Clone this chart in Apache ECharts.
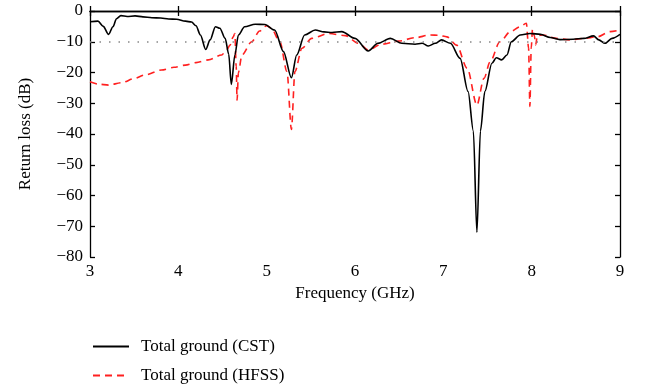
<!DOCTYPE html>
<html>
<head>
<meta charset="utf-8">
<script src="https://cdn.jsdelivr.net/npm/echarts@6/dist/echarts.min.js"></script>
<style>
  html, body { margin:0; padding:0; background:#fff; }
  #chart { width:648px; height:387px; }
</style>
</head>
<body>
<div id="chart"></div>
<script type="text/javascript">
// CST curve (frequency in GHz, return loss in dB)
var cstFreq = [3.0,3.09,3.15,3.21,3.26,3.30,3.35,3.42,3.51,3.60,3.70,3.80,3.89,3.98,4.08,4.15,4.20,4.25,4.31,4.36,4.42,4.47,4.53,4.57,4.60,4.64,4.68,4.75,4.87,4.98,5.09,5.19,5.28,5.34,5.43,5.55,5.65,5.74,5.85,6.0,6.15,6.26,6.40,6.53,6.68,6.76,6.83,6.91,6.98,7.08,7.19,7.28,7.34,7.38,7.42,7.47,7.55,7.60,7.66,7.72,7.77,7.87,7.98,8.10,8.21,8.32,8.47,8.59,8.70,8.76,8.83,8.91,9.0];
var cstLoss = [-3.5,-3.3,-5,-7.6,-5.1,-2.5,-1.5,-1.8,-1.6,-1.9,-2.2,-2.3,-2.6,-2.7,-3.3,-3.6,-4.8,-7.8,-12.5,-9.4,-5.1,-5.6,-8.9,-14,-23.9,-14.3,-7.8,-5.1,-4.3,-4.4,-6.2,-13.2,-21.7,-14.3,-7.8,-6.2,-6.8,-7.0,-6.7,-8.9,-13.0,-10.5,-8.9,-10.5,-10.8,-10.5,-11.4,-10.5,-9.4,-10.5,-15.4,-26.2,-39,-72,-39,-26.2,-17,-15.2,-15.9,-14.3,-10,-7.8,-7.3,-7.6,-8.6,-9.3,-9.2,-8.9,-8.1,-9.4,-10.5,-8.9,-7.6];

// HFSS curve
var hfssFreq = [3.0,3.1,3.21,3.36,3.5,3.62,3.81,3.95,4.08,4.2,4.34,4.49,4.55,4.585,4.62,4.64,4.655,4.665,4.68,4.72,4.83,4.92,5.0,5.05,5.15,5.23,5.28,5.32,5.40,5.51,5.70,5.89,6.04,6.15,6.30,6.49,6.68,6.85,6.95,7.04,7.15,7.27,7.38,7.46,7.53,7.64,7.76,7.87,7.94,7.965,7.98,7.995,8.01,8.03,8.045,8.065,8.13,8.28,8.43,8.59,8.74,8.89,9.0];
var hfssLoss = [-23,-23.8,-24.1,-23.3,-22,-20.8,-19.2,-18.3,-17.6,-16.8,-15.9,-14.3,-12.5,-11.1,-8.5,-7.3,-18,-29,-20,-14.3,-10,-6.5,-4.8,-5.5,-10,-19.7,-38.5,-19.7,-12.1,-8.9,-7.3,-8.0,-10.5,-12.7,-10.8,-9.8,-8.7,-7.8,-7.9,-8.4,-11.1,-18.6,-30.6,-21.9,-16.5,-10,-6.7,-5.1,-4.0,-12,-31,-12,-5.8,-8,-11,-8,-7.8,-8.9,-9.4,-8.9,-8.4,-6.7,-6.2];

var seriesNames = ['Total ground (CST)', 'Total ground (HFSS)'];
var refLevel = -10;

function pairs(xs, ys) {
  var out = [];
  for (var i = 0; i < xs.length; i++) out.push([xs[i], ys[i]]);
  return out;
}
function minus(v) { return String(v).replace('-', '\u2212'); }

var font = 'Liberation Serif';
var dom = document.getElementById('chart');
var myChart = echarts.init(dom);
var axisLine = { show: true, lineStyle: { color: '#000', width: 1.3 } };
var axisTick = { show: true, inside: true, length: 5, lineStyle: { color: '#000', width: 1.3 } };

function legendAt(top, name) {
  return {
    left: 87, top: top,
    itemWidth: 36, itemHeight: 14,
    itemStyle: { opacity: 0 },
    textStyle: { fontFamily: font, fontSize: 17, color: '#000', padding: [0, 0, 0, 7] },
    data: [name]
  };
}

var option = {
  animation: false,
  grid: { left: 90, right: 28, top: 11, bottom: 130 },
  legend: [legendAt(333, seriesNames[0]), legendAt(362, seriesNames[1])],
  xAxis: [{
    type: 'value', min: 3, max: 9, interval: 1, position: 'bottom',
    name: 'Frequency (GHz)', nameLocation: 'middle', nameGap: 24,
    nameTextStyle: { fontFamily: font, fontSize: 17, color: '#000' },
    axisLine: axisLine, axisTick: axisTick,
    axisLabel: { fontFamily: font, fontSize: 17, color: '#000', margin: 6 },
    splitLine: { show: false }
  }, {
    type: 'value', min: 3, max: 9, interval: 1, position: 'top',
    axisLine: axisLine, axisTick: axisTick,
    axisLabel: { show: false }, splitLine: { show: false }
  }],
  yAxis: [{
    type: 'value', min: -80, max: 0, interval: 10, position: 'left',
    name: 'Return loss (dB)', nameLocation: 'middle', nameGap: 56, nameRotate: 90,
    nameTextStyle: { fontFamily: font, fontSize: 17, color: '#000' },
    axisLine: axisLine, axisTick: axisTick,
    axisLabel: { fontFamily: font, fontSize: 17, color: '#000', margin: 7, formatter: minus },
    splitLine: { show: false }
  }, {
    type: 'value', min: -80, max: 0, interval: 10, position: 'right',
    axisLine: axisLine, axisTick: axisTick,
    axisLabel: { show: false }, splitLine: { show: false }
  }],
  series: [{
    name: seriesNames[0],
    type: 'line',
    data: pairs(cstFreq, cstLoss),
    symbol: 'none',
    smooth: 0.3,
    smoothMonotone: 'x',
    lineStyle: { color: '#000', width: 1.6 },
    itemStyle: { color: '#000' },
    z: 3,
    markLine: {
      silent: true, symbol: 'none', label: { show: false },
      lineStyle: { color: '#888', type: [1.5, 8], width: 1.5 },
      data: [{ yAxis: refLevel }]
    }
  }, {
    name: seriesNames[1],
    type: 'line',
    data: pairs(hfssFreq, hfssLoss),
    symbol: 'none',
    smooth: 0.3,
    smoothMonotone: 'x',
    lineStyle: { color: '#ff2020', width: 1.6, type: [7, 5] },
    itemStyle: { color: '#ff2020' },
    z: 2
  }]
};
myChart.setOption(option);
</script>
</body>
</html>
